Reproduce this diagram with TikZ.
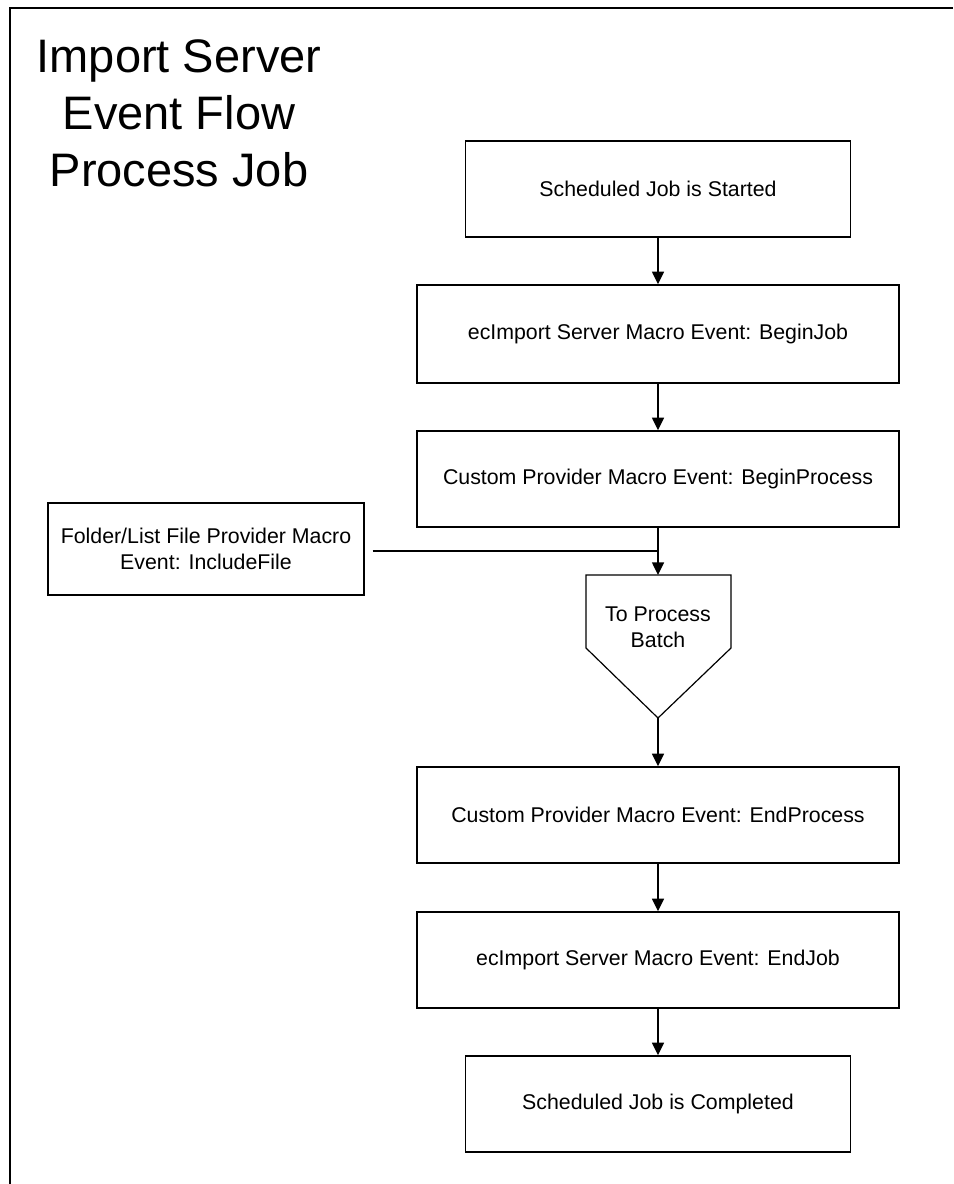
\documentclass[tikz,border=0pt]{standalone}
\usepackage{fontspec}
\setmainfont{Liberation Sans}
\usetikzlibrary{arrows.meta}
\begin{document}
\begin{tikzpicture}[x=0.75pt,y=-0.75pt,
  box/.style={draw, line width=1.1pt, minimum height=72pt, inner sep=0pt,
    font=\fontsize{16}{19.5}\selectfont, align=center},
  wide/.style={box, minimum width=361.5pt},
  narrow/.style={box, minimum width=288.75pt},
  flow/.style={line width=1.1pt, -{Triangle[width=9pt,length=9.5pt]}},
  link/.style={line width=1.1pt},
  thin/.style={line width=0.9pt}]
\useasboundingbox (0,0) rectangle (953,1184);
\draw[line width=1.5pt] (10,1184) -- (10,8) -- (953,8);
\node[font=\fontsize{35.25}{42.75}\selectfont, align=center, inner sep=0pt] (title) at (179,113) {Import Server\\Event Flow\\Process Job};
\node[narrow] (start) at (658,189) {Scheduled Job is Started};
\node[wide, minimum height=73.5pt] (begjob) at (658,334) {ecImport Server Macro Event: BeginJob};
\node[wide] (begproc) at (658,479) {Custom Provider Macro Event: BeginProcess};
\node[box, minimum width=237pt, minimum height=69pt] (folder) at (206,549) {Folder/List File Provider Macro\\Event: IncludeFile};
\coordinate (join) at (658,551);
\coordinate (battop) at (658,575);
\coordinate (battip) at (658,718);
\draw[thin] (586,575) -- (731,575) -- (731,648) -- (battip) -- (586,648) -- cycle;
\node[font=\fontsize{16}{19.5}\selectfont, align=center, inner sep=0pt] (batch) at (658,627) {To Process\\Batch};
\node[wide] (endproc) at (658,815) {Custom Provider Macro Event: EndProcess};
\node[wide] (endjob) at (658,960) {ecImport Server Macro Event: EndJob};
\node[narrow] (done) at (658,1104) {Scheduled Job is Completed};
\coordinate (fe) at ([xshift=6pt]folder.east);
\draw[flow] (start.south) -- (begjob.north);
\draw[flow] (begjob.south) -- (begproc.north);
\draw[flow] (begproc.south) -- (battop);
\draw[link] (fe |- join) -- (join);
\draw[flow] (battip) -- (endproc.north);
\draw[flow] (endproc.south) -- (endjob.north);
\draw[flow] (endjob.south) -- (done.north);
\end{tikzpicture}
\end{document}
